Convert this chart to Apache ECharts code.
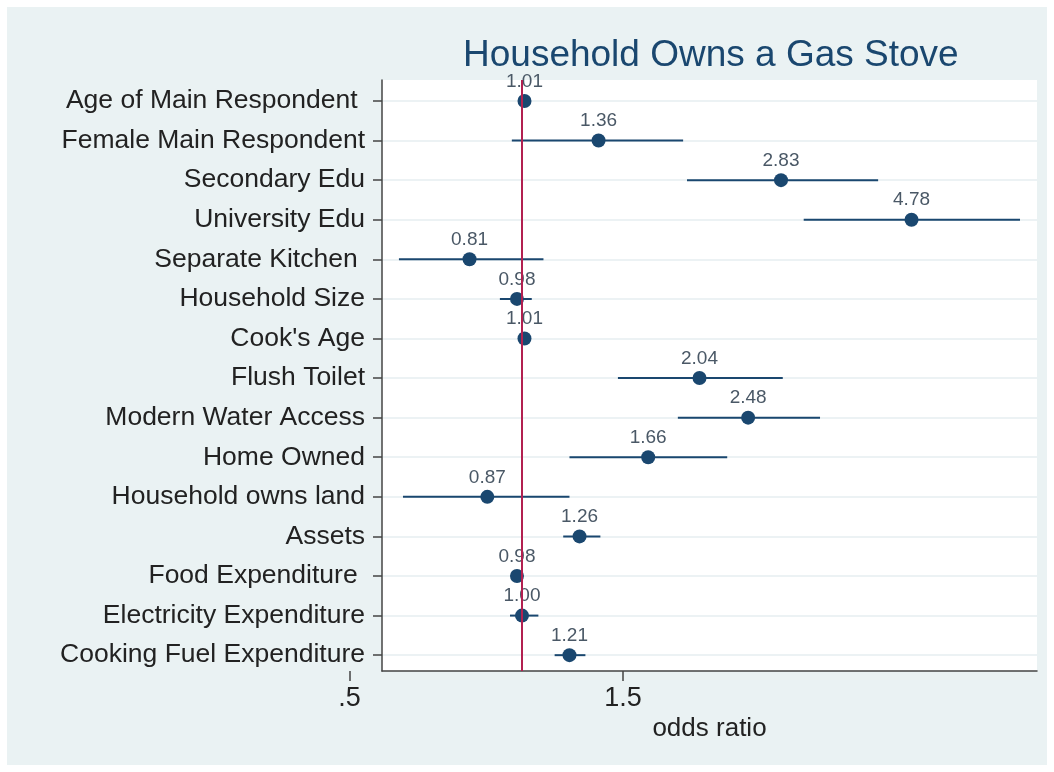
<!DOCTYPE html>
<html>
<head>
<meta charset="utf-8">
<title>Household Owns a Gas Stove</title>
<script src="https://cdn.jsdelivr.net/npm/echarts@6/dist/echarts.min.js"></script>
<style>
  body { margin: 0; background: #ffffff; }
  #main { position: absolute; left: 7px; top: 7px; width: 1040px; height: 758px; }
</style>
</head>
<body>
<div id="main"></div>
<script>
// variables, top to bottom
var categories = [
  'Age of Main Respondent ',
  'Female Main Respondent',
  'Secondary Edu',
  'University Edu',
  'Separate Kitchen ',
  'Household Size',
  "Cook's Age",
  'Flush Toilet',
  'Modern Water Access',
  'Home Owned',
  'Household owns land',
  'Assets',
  'Food Expenditure ',
  'Electricity Expenditure',
  'Cooking Fuel Expenditure'
]
// odds ratios and 95% CI bounds
var oddsRatio = [1.01, 1.36, 2.83, 4.78, 0.81, 0.98, 1.01, 2.04, 2.48, 1.66, 0.87, 1.26, 0.98, 1.00, 1.21]
var ciLow = [1.00, 0.96, 1.94, 3.10, 0.61, 0.915, 1.00, 1.47, 1.87, 1.21, 0.62, 1.18, 0.97, 0.953, 1.14]
var ciHigh = [1.02, 1.91, 4.18, 7.39, 1.09, 1.04, 1.02, 2.85, 3.31, 2.28, 1.21, 1.37, 0.99, 1.068, 1.29]
// x tick labels
var xTickValues = [0.5, 1.5]
var xTickLabels = ['.5', '1.5']

var font = "'Liberation Sans', Arial, Helvetica, sans-serif"
var navy = '#1a476f'

var rowIdx = categories.map(function (c, i) { return i })
var pointData = oddsRatio.map(function (v, i) { return [v, i] })
var ciData = oddsRatio.map(function (v, i) { return [ciLow[i], ciHigh[i], i] })

var myChart = echarts.init(document.getElementById('main'))

var option = {
  backgroundColor: '#eaf2f3',
  animation: false,
  title: {
    text: 'Household Owns a Gas Stove',
    left: 451,
    top: 25,
    textStyle: { color: navy, fontSize: 37, fontWeight: 'normal', fontFamily: font }
  },
  grid: [
    // the plot area
    { left: 375, right: 10, top: 73, bottom: 94, show: true, backgroundColor: '#ffffff', borderWidth: 0 },
    // same scale, reaching out to .5 for the tick labels
    { left: 342.4, right: 10, top: 73, bottom: 94 }
  ],
  xAxis: [
    {
      type: 'log',
      gridIndex: 0,
      min: 0.5699,
      max: 7.912,
      name: 'odds ratio',
      nameLocation: 'middle',
      nameGap: 45,
      nameTextStyle: { color: '#222', fontSize: 26, fontFamily: font },
      axisLine: { show: true, onZero: false, lineStyle: { color: '#444', width: 1.5 } },
      axisTick: { show: false },
      axisLabel: { show: false },
      splitLine: { show: false }
    },
    {
      type: 'log',
      gridIndex: 1,
      min: 0.5,
      max: 7.912,
      axisLine: { show: false, onZero: false },
      axisTick: {
        show: true,
        customValues: xTickValues,
        length: 10,
        lineStyle: { color: '#444', width: 1.5 }
      },
      axisLabel: {
        show: true,
        customValues: xTickValues,
        margin: 14,
        color: '#222',
        fontSize: 27,
        fontFamily: font,
        formatter: function (v) {
          var k = xTickValues.indexOf(+v)
          return k >= 0 ? xTickLabels[k] : ''
        }
      },
      splitLine: { show: false }
    }
  ],
  yAxis: [
    {
      type: 'value',
      gridIndex: 0,
      inverse: true,
      min: -0.53,
      max: 14.4,
      axisLine: { show: true, onZero: false, lineStyle: { color: '#444', width: 1.5 } },
      axisTick: {
        show: true,
        customValues: rowIdx,
        length: 9,
        lineStyle: { color: '#444', width: 1.5 }
      },
      axisLabel: {
        customValues: rowIdx,
        margin: 17,
        color: '#222',
        fontSize: 26.5,
        fontFamily: font,
        formatter: function (v) { return categories[v] }
      },
      splitLine: { show: true, lineStyle: { color: '#e6eef0', width: 1.5 } }
    },
    { type: 'value', gridIndex: 1, show: false, min: -0.53, max: 14.4 }
  ],
  series: [
    {
      // confidence intervals
      type: 'custom',
      xAxisIndex: 0,
      yAxisIndex: 0,
      data: ciData,
      encode: { x: [0, 1], y: 2 },
      renderItem: function (params, api) {
        var p1 = api.coord([api.value(0), api.value(2)])
        var p2 = api.coord([api.value(1), api.value(2)])
        return {
          type: 'line',
          shape: { x1: p1[0], y1: p1[1], x2: p2[0], y2: p2[1] },
          style: { stroke: navy, lineWidth: 2 }
        }
      },
      z: 3
    },
    {
      type: 'scatter',
      xAxisIndex: 0,
      yAxisIndex: 0,
      data: pointData,
      symbolSize: 14,
      itemStyle: { color: navy, opacity: 1 },
      label: {
        show: true,
        position: 'top',
        distance: 3,
        color: '#4a5866',
        fontSize: 19,
        fontFamily: font,
        formatter: function (p) { return p.value[0].toFixed(2) }
      },
      markLine: {
        silent: true,
        symbol: 'none',
        label: { show: false },
        lineStyle: { color: '#b22050', width: 2, type: 'solid' },
        data: [{ xAxis: 1 }]
      },
      z: 4
    }
  ]
}

myChart.setOption(option)
</script>
</body>
</html>
